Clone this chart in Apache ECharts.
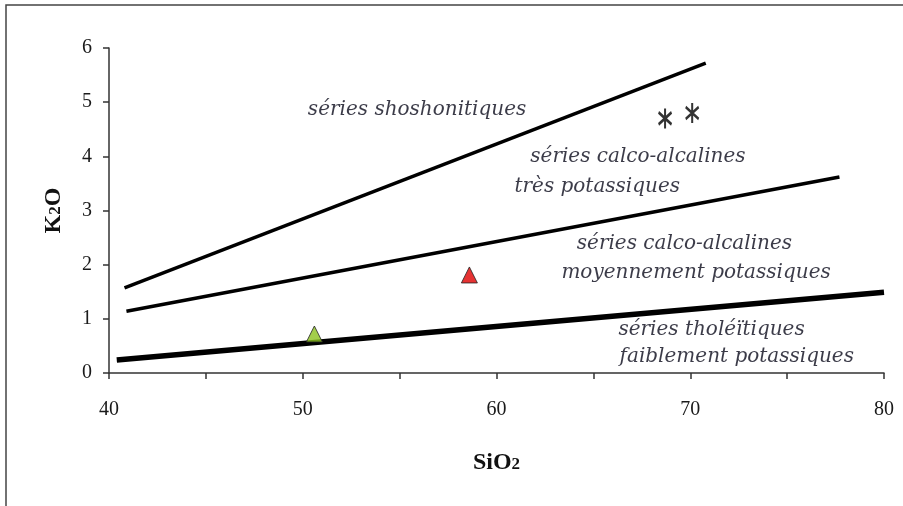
<!DOCTYPE html>
<html>
<head>
<meta charset="utf-8">
<script src="https://cdn.jsdelivr.net/npm/echarts@6/dist/echarts.min.js"></script>
<style>html,body{margin:0;padding:0;background:#fff}#c{width:903px;height:506px}</style>
</head>
<body>
<div id="c"></div>
<script>
// Boundary lines [SiO2, K2O]
const lineShoshonitic = [[40.8, 1.57], [70.8, 5.72]];
const lineHighK = [[40.9, 1.14], [77.7, 3.62]];
const lineTholeiitic = [[40.4, 0.24], [80.0, 1.49]];
// Samples
const asteriskSamples = [[68.7, 4.70], [70.1, 4.80]];
const redTriangle = [[58.6, 1.81]];
const greenTriangle = [[50.6, 0.72]];
// Field labels [SiO2, K2O, text]
const fieldLabels = [
  [55.9, 4.85, 'séries shoshonitiques'],
  [67.3, 3.99, 'séries calco-alcalines'],
  [65.2, 3.43, 'très potassiques'],
  [69.7, 2.38, 'séries calco-alcalines'],
  [70.3, 1.85, 'moyennement potassiques'],
  [71.1, 0.80, 'séries tholéïtiques'],
  [72.4, 0.29, 'faiblement potassiques']
];
const xTicks = [40, 50, 60, 70, 80];

const chart = echarts.init(document.getElementById('c'), null, {renderer: 'canvas'});
const serif = '"Liberation Serif", "Times New Roman", serif';
const italicFont = '"DejaVu Serif", serif';
const lineStyleBase = {color: '#000', width: 3.5};
const nameRich = {
  a: {fontFamily: serif, fontWeight: 'bold', fontSize: 24, color: '#111'},
  b: {fontFamily: serif, fontWeight: 'bold', fontSize: 17, color: '#111', padding: [4, 0, 0, 0]}
};

chart.setOption({
  animation: false,
  backgroundColor: '#fff',
  grid: {left: 109, right: 19, top: 48, bottom: 133},
  xAxis: {
    type: 'value', min: 40, max: 80, interval: 5,
    name: '{a|SiO}{b|2}', nameLocation: 'middle', nameGap: 78,
    nameTextStyle: {rich: nameRich},
    axisLine: {lineStyle: {color: '#333', width: 1.5}},
    axisTick: {length: 6, lineStyle: {color: '#333', width: 1.5}},
    splitLine: {show: false},
    axisLabel: {fontFamily: serif, fontSize: 20, color: '#1a1a1a', margin: 27,
      formatter: v => xTicks.indexOf(v) >= 0 ? String(v) : ''}
  },
  yAxis: {
    type: 'value', min: 0, max: 6, interval: 1,
    name: '{a|K}{b|2}{a|O}', nameLocation: 'middle', nameGap: 43,
    nameTextStyle: {rich: nameRich},
    axisLine: {show: true, lineStyle: {color: '#333', width: 1.5}},
    axisTick: {show: true, length: 6, lineStyle: {color: '#333', width: 1.5}},
    splitLine: {show: false},
    axisLabel: {fontFamily: serif, fontSize: 20, color: '#1a1a1a', margin: 17}
  },
  series: [
    {type: 'line', data: lineShoshonitic, symbol: 'none', lineStyle: lineStyleBase, z: 2},
    {type: 'line', data: lineHighK, symbol: 'none', lineStyle: lineStyleBase, z: 2},
    {type: 'line', data: lineTholeiitic, symbol: 'none', lineStyle: {color: '#000', width: 5.5}, z: 2},
    {type: 'scatter', data: asteriskSamples, symbol: 'path://M0,-10L0,10M-7,-6L7,6M-7,6L7,-6', symbolSize: [13, 20],
      itemStyle: {color: 'rgba(0,0,0,0)', borderColor: '#000', borderWidth: 2.5}, z: 4},
    {type: 'scatter', data: redTriangle, symbol: 'triangle', symbolSize: [16, 16],
      itemStyle: {color: '#e00000', borderColor: '#222', borderWidth: 1}, z: 4},
    {type: 'scatter', data: greenTriangle, symbol: 'triangle', symbolSize: [16, 16],
      itemStyle: {color: '#8cc21e', borderColor: '#222', borderWidth: 1}, z: 5},
    {type: 'scatter', data: fieldLabels.map(d => ({value: [d[0], d[1]], name: d[2]})), symbolSize: 0,
      label: {show: true, position: 'inside', formatter: p => p.name,
        fontFamily: italicFont, fontStyle: 'italic', fontSize: 20, color: '#0a0a1a'}, silent: true, z: 6}
  ],
  graphic: [
    {type: 'polyline', shape: {points: [[6, 506], [6, 5], [903, 5]]}, style: {stroke: '#444', lineWidth: 1.5, fill: null}}
  ]
});
</script>
</body>
</html>
